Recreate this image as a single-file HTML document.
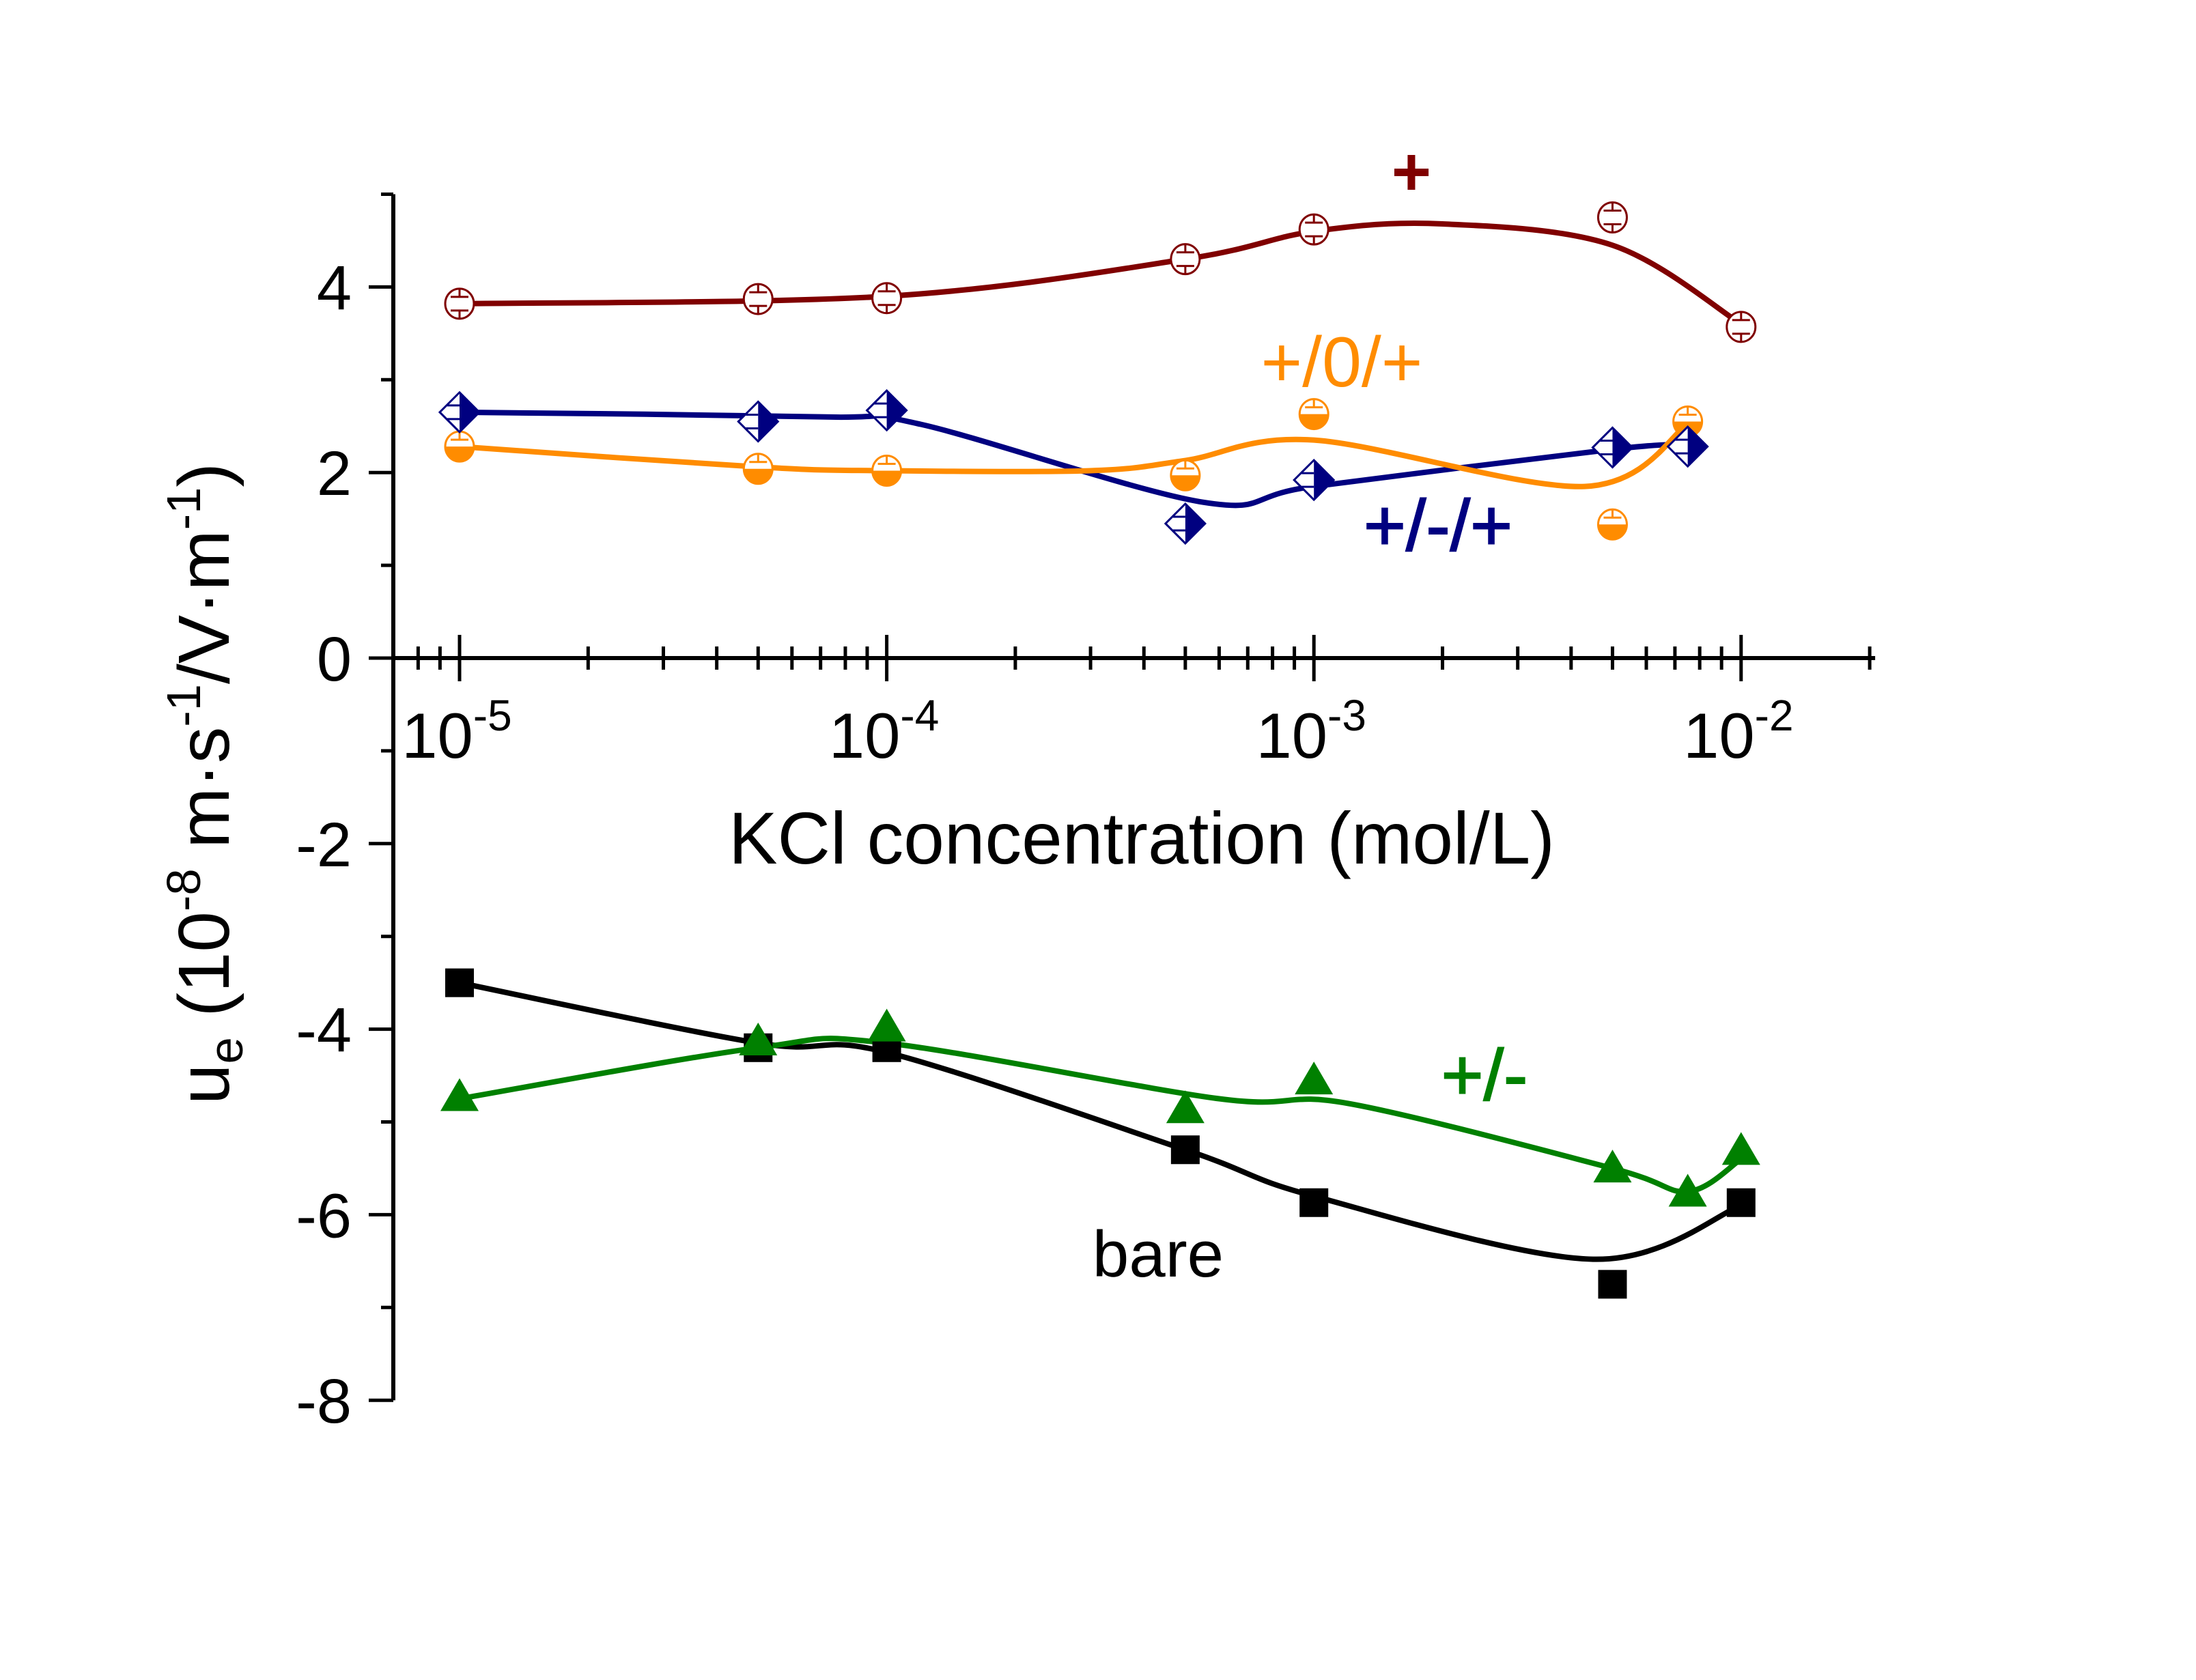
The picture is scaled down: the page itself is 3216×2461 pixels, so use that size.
<!DOCTYPE html>
<html><head><meta charset="utf-8"><style>
html,body{margin:0;padding:0;background:#fff;}
svg{display:block;font-family:"Liberation Sans",sans-serif;}
</style></head><body>
<svg id="chart" width="3216" height="2461" viewBox="0 0 3216 2461" xmlns="http://www.w3.org/2000/svg">
<rect width="3216" height="2461" fill="#fff"/>
<g id="axes"></g>
<g id="curves"></g>
<g id="marks"></g>
<text x="1672" y="1265" font-size="108" text-anchor="middle" textLength="1210" lengthAdjust="spacingAndGlyphs">KCl concentration (mol/L)</text>
<text transform="translate(335,1148) rotate(-90)" font-size="106" text-anchor="middle" textLength="940" lengthAdjust="spacingAndGlyphs">u<tspan font-size="70" dy="20">e</tspan><tspan dy="-20"> (10</tspan><tspan font-size="70" dy="-42">-8</tspan><tspan dy="42"> m·s</tspan><tspan font-size="70" dy="-42">-1</tspan><tspan dy="42">/V·m</tspan><tspan font-size="70" dy="-42">-1</tspan><tspan dy="42">)</tspan></text>
<text x="2067" y="286" font-size="100" font-weight="bold" fill="#800000" text-anchor="middle">+</text>
<text x="1965" y="566" font-size="104" fill="#ff8c00" text-anchor="middle">+/0/+</text>
<text x="2106" y="806" font-size="106" fill="#000080" stroke="#000080" stroke-width="2" text-anchor="middle">+/-/+</text>
<text x="2174" y="1611" font-size="106" fill="#008000" stroke="#008000" stroke-width="2" text-anchor="middle">+/-</text>
<text x="1696" y="1870" font-size="96" fill="#000" text-anchor="middle">bare</text>
</svg>
<script>
// data
const redX=[1e-5,5e-5,1e-4,5e-4,1e-3,5e-3,1e-2];
const redY=[3.82,3.87,3.88,4.3,4.62,4.75,3.57];
const blueX=[1e-5,5e-5,1e-4,5e-4,1e-3,5e-3,7.5e-3];
const blueY=[2.65,2.55,2.67,1.45,1.92,2.27,2.28];
const orangeX=[1e-5,5e-5,1e-4,5e-4,1e-3,5e-3,7.5e-3];
const orangeY=[2.28,2.04,2.02,1.97,2.63,1.44,2.55];
const blackX=[1e-5,5e-5,1e-4,5e-4,1e-3,5e-3,1e-2];
const blackY=[-3.5,-4.2,-4.2,-5.3,-5.87,-6.75,-5.87];
const greenX=[1e-5,5e-5,1e-4,5e-4,1e-3,5e-3,7.5e-3,1e-2];
const greenY=[-4.75,-4.15,-4.0,-4.88,-4.57,-5.52,-5.78,-5.33];
// fit curves
const redFitX=[1e-5,1e-4,5e-4,1e-3,2e-3,5e-3,1e-2];
const redFitY=[3.82,3.9,4.3,4.6,4.68,4.45,3.6];
const blueFitX=[1e-5,7e-5,1.2e-4,5.5e-4,1e-3,5e-3,7.5e-3];
const blueFitY=[2.65,2.6,2.52,1.68,1.85,2.25,2.3];
const orangeFitX=[1e-5,5e-5,1e-4,3e-4,5e-4,1e-3,4.3e-3,7.5e-3];
const orangeFitY=[2.28,2.06,2.02,2.02,2.13,2.35,1.85,2.52];
const blackFitX=[1e-5,5e-5,1e-4,5e-4,1e-3,4.5e-3,1e-2];
const blackFitY=[-3.5,-4.15,-4.25,-5.3,-5.8,-6.48,-5.9];
const greenFitX=[1e-5,5e-5,1e-4,6e-4,1.2e-3,5e-3,7.5e-3,1e-2];
const greenFitY=[-4.75,-4.2,-4.15,-4.75,-4.8,-5.5,-5.75,-5.4];
const yTicks=[4,2,0,-2,-4,-6,-8];
const xDecades=[-5,-4,-3,-2];

const NS="http://www.w3.org/2000/svg";
const X0=673, DEC=625.6, Y0=964, YU=135.9, AXX=576;
function sx(v){return X0+(Math.log10(v)+5)*DEC;}
function sy(v){return Y0-v*YU;}
function mk(tag,attrs,parent){const e=document.createElementNS(NS,tag);for(const k in attrs)e.setAttribute(k,attrs[k]);parent.appendChild(e);return e;}
const axes=document.getElementById('axes');
let e;
e=mk('line',{x1:AXX,y1:sy(5),x2:AXX,y2:sy(-8),stroke:'#000','stroke-width':6},axes);


e=mk('line',{x1:AXX,y1:Y0,x2:sx(2e-2)+8,y2:Y0,stroke:'#000','stroke-width':6},axes);


for(let v=5;v>=-8;v--){
  const major=(v%2===0);
  e=mk('line',{x1:AXX-(major?36:18),y1:sy(v),x2:AXX,y2:sy(v),stroke:'#000','stroke-width':5},axes);
  
  
}
yTicks.forEach(v=>{
  e=mk('text',{x:515,y:sy(v)+33,'font-size':92,'text-anchor':'end'},axes);
  e.textContent=String(v);
  
  
});
for(let d=-6;d<=-2;d++){
  for(let m=1;m<=9;m++){
    const v=m*Math.pow(10,d);
    const x=sx(v);
    if(x<AXX+10||v>2.05e-2)continue;
    const major=(m===1);
    e=mk('line',{x1:x,y1:Y0-(major?34:17),x2:x,y2:Y0+(major?34:17),stroke:'#000','stroke-width':5},axes);
    
    
  }
}
xDecades.forEach(d=>{
  const t=mk('text',{x:sx(Math.pow(10,d))-4,y:1110,'font-size':94,'text-anchor':'middle'},axes);
  
  
  const a=document.createElementNS(NS,'tspan');a.textContent='10';t.appendChild(a);
  const b=document.createElementNS(NS,'tspan');b.setAttribute('font-size','64');b.setAttribute('dy','-40');b.textContent=String(d);t.appendChild(b);
});
function curve(xs,ys,col,name){
  const p=xs.map((x,i)=>[sx(x),sy(ys[i])]);
  let d='M'+p[0][0]+','+p[0][1];
  for(let i=0;i<p.length-1;i++){
    const p0=p[i-1]||p[i],p1=p[i],p2=p[i+1],p3=p[i+2]||p[i+1];
    const c1=[p1[0]+(p2[0]-p0[0])/6,p1[1]+(p2[1]-p0[1])/6];
    const c2=[p2[0]-(p3[0]-p1[0])/6,p2[1]-(p3[1]-p1[1])/6];
    d+=` C${c1[0]},${c1[1]} ${c2[0]},${c2[1]} ${p2[0]},${p2[1]}`;
  }
  const el=mk('path',{d:d,fill:'none',stroke:col,'stroke-width':8},document.getElementById('curves'));
  
  
}
curve(redFitX,redFitY,'#800000','curve-plus');
curve(blueFitX,blueFitY,'#000080','curve-plus-minus-plus');
curve(orangeFitX,orangeFitY,'#ff8c00','curve-plus-zero-plus');
curve(blackFitX,blackFitY,'#000','curve-bare');
curve(greenFitX,greenFitY,'#008000','curve-plus-minus');
const marks=document.getElementById('marks');
redX.forEach((x,i)=>{
  const cx=sx(x),cy=sy(redY[i]);
  const g=mk('g',{},marks);
  
  
  mk('ellipse',{cx:cx,cy:cy,rx:21,ry:22,fill:'#fff',stroke:'#800000','stroke-width':3},g);
  mk('path',{d:`M${cx-13},${cy-10}H${cx+13}M${cx-13},${cy+10}H${cx+13}M${cx},${cy-22}V${cy-10}M${cx},${cy+10}V${cy+22}`,stroke:'#800000','stroke-width':3},g);
});
orangeX.forEach((x,i)=>{
  const cx=sx(x),cy=sy(orangeY[i]);
  const g=mk('g',{},marks);
  
  
  mk('ellipse',{cx:cx,cy:cy,rx:21,ry:22,fill:'#fff',stroke:'#ff8c00','stroke-width':3},g);
  mk('path',{d:`M${cx-21},${cy}A21,22 0 0 0 ${cx+21},${cy}Z`,fill:'#ff8c00'},g);
  mk('path',{d:`M${cx-13},${cy-10}H${cx+13}M${cx},${cy-22}V${cy-10}`,stroke:'#ff8c00','stroke-width':3},g);
});
blueX.forEach((x,i)=>{
  const cx=sx(x),cy=sy(blueY[i]);
  const g=mk('g',{},marks);
  
  
  mk('path',{d:`M${cx},${cy-29}L${cx+29},${cy}L${cx},${cy+29}L${cx-29},${cy}Z`,fill:'#fff',stroke:'#000080','stroke-width':3},g);
  mk('path',{d:`M${cx},${cy-29}L${cx+29},${cy}L${cx},${cy+29}Z`,fill:'#000080'},g);
  mk('path',{d:`M${cx-18},${cy-10}H${cx}M${cx-18},${cy+10}H${cx}`,stroke:'#000080','stroke-width':3},g);
});
blackX.forEach((x,i)=>{
  const cx=sx(x),cy=sy(blackY[i]);
  e=mk('rect',{x:cx-21,y:cy-21,width:42,height:42,fill:'#000'},marks);
  
  
});
greenX.forEach((x,i)=>{
  const cx=sx(x),cy=sy(greenY[i]);
  e=mk('path',{d:`M${cx},${cy-30}L${cx+28},${cy+18}L${cx-28},${cy+18}Z`,fill:'#008000'},marks);
  
  
});
</script>
</body></html>
